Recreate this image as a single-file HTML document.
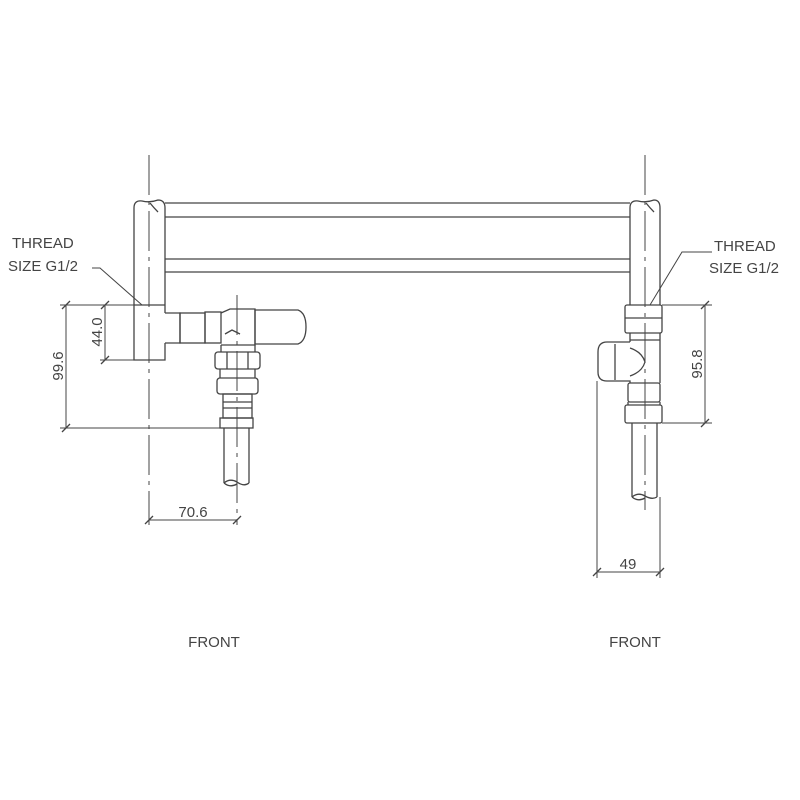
<!DOCTYPE html>
<html><head><meta charset="utf-8"><style>
html,body{margin:0;padding:0;background:#fff;width:800px;height:800px;overflow:hidden}
text{font-family:"Liberation Sans",sans-serif;fill:#444;font-size:15px}
</style></head><body>
<svg width="800" height="800" viewBox="0 0 800 800" xmlns="http://www.w3.org/2000/svg">
<g fill="none" stroke="#444" stroke-width="1.3">
<line x1="165" y1="203" x2="630" y2="203"/><line x1="165" y1="217" x2="630" y2="217"/>
<line x1="165" y1="259" x2="630" y2="259"/><line x1="165" y1="272" x2="630" y2="272"/>
<path d="M134,208 V360 H165 V343 M165,313 V208"/>
<path d="M134,208 Q134,200 142,201 Q150,203 158,200 Q165,200 165,208"/>
<path d="M150,203 Q154,208 158,212"/>
<line x1="134" y1="305" x2="165" y2="305"/>
<path d="M165,313 H180 V343 H165"/>
<rect x="180" y="313" width="25" height="30"/>
<rect x="205" y="312" width="16" height="31"/>
<path d="M221,313 L230,309 H255 V345 H221"/>
<path d="M255,310 H298 Q306,313 306,327 Q306,341 298,344 H255 Z"/>
<path d="M225,334 L232,330 L240,334"/>
<rect x="215" y="352" width="45" height="17" rx="3"/>
<line x1="227" y1="352" x2="227" y2="369"/><line x1="248" y1="352" x2="248" y2="369"/>
<line x1="221" y1="345" x2="221" y2="352"/><line x1="255" y1="345" x2="255" y2="352"/>
<rect x="217" y="378" width="41" height="16" rx="3"/>
<line x1="220" y1="369" x2="220" y2="378"/><line x1="255" y1="369" x2="255" y2="378"/>
<rect x="223" y="394" width="29" height="24"/>
<line x1="223" y1="402" x2="252" y2="402"/><line x1="223" y1="408" x2="252" y2="408"/>
<rect x="220" y="418" width="33" height="10"/>
<path d="M224,428 V483 M249,428 V483"/>
<path d="M224,483 Q230,478 237,482 Q244,487 249,483"/><path d="M224,483 Q230,488 237,484"/>
<path d="M630,208 V305 M660,208 V305"/>
<path d="M630,208 Q630,200 638,201 Q646,203 654,200 Q660,200 660,208"/>
<path d="M646,203 Q650,208 654,212"/>
<rect x="625" y="305" width="37" height="28" rx="2"/>
<line x1="625" y1="318" x2="662" y2="318"/>
<path d="M630,333 V342 M660,333 V383"/>
<line x1="630" y1="340" x2="660" y2="340"/>
<path d="M630,342 H607 Q598,342 598,352 V372 Q598,381 607,381 H630 V383"/>
<line x1="615" y1="344" x2="615" y2="380"/>
<path d="M630,348 Q642,352 645,362 Q642,372 630,376"/>
<rect x="628" y="383" width="32" height="19" rx="2"/>
<rect x="625" y="405" width="37" height="18" rx="2"/>
<line x1="628" y1="402" x2="628" y2="405"/><line x1="660" y1="402" x2="660" y2="405"/>
<path d="M632,423 V497 M657,423 V497"/>
<path d="M632,497 Q638,492 645,496 Q652,500 657,497"/><path d="M632,497 Q638,502 645,498"/>
</g>
<g stroke="#444" stroke-width="1" fill="none" stroke-dasharray="40,6,4,6">
<line x1="149" y1="155" x2="149" y2="525"/>
<line x1="645" y1="155" x2="645" y2="510"/>
<line x1="237" y1="295" x2="237" y2="525"/>
</g>
<g stroke="#444" stroke-width="1" fill="none">
<line x1="60" y1="305" x2="134" y2="305"/><line x1="60" y1="428" x2="222" y2="428"/>
<line x1="66" y1="305" x2="66" y2="428"/>
<line x1="100" y1="360" x2="134" y2="360"/><line x1="105" y1="305" x2="105" y2="360"/>
<line x1="149" y1="520" x2="237" y2="520"/>
<line x1="662" y1="305" x2="712" y2="305"/><line x1="662" y1="423" x2="712" y2="423"/>
<line x1="705" y1="305" x2="705" y2="423"/>
<line x1="597" y1="381" x2="597" y2="578"/><line x1="660" y1="497" x2="660" y2="578"/>
<line x1="597" y1="572" x2="660" y2="572"/>
<path d="M142,305 L100,268 H92"/>
<path d="M650,305 L682,252 H712"/>
<g stroke-width="1.3">
<path d="M62,309 L70,301 M62,432 L70,424 M101,364 L109,356 M101,309 L109,301 M145,524 L153,516 M233,524 L241,516 M701,309 L709,301 M701,427 L709,419 M593,576 L601,568 M656,576 L664,568"/>
</g>
</g>
<text x="12" y="248">THREAD</text>
<text x="8" y="271">SIZE G1/2</text>
<text x="714" y="251">THREAD</text>
<text x="709" y="273">SIZE G1/2</text>
<text transform="translate(63,366) rotate(-90)" text-anchor="middle">99.6</text>
<text transform="translate(102,332) rotate(-90)" text-anchor="middle">44.0</text>
<text transform="translate(702,364) rotate(-90)" text-anchor="middle">95.8</text>
<text x="193" y="517" text-anchor="middle">70.6</text>
<text x="628" y="569" text-anchor="middle">49</text>
<text x="214" y="647" text-anchor="middle">FRONT</text>
<text x="635" y="647" text-anchor="middle">FRONT</text>
</svg>
</body></html>
